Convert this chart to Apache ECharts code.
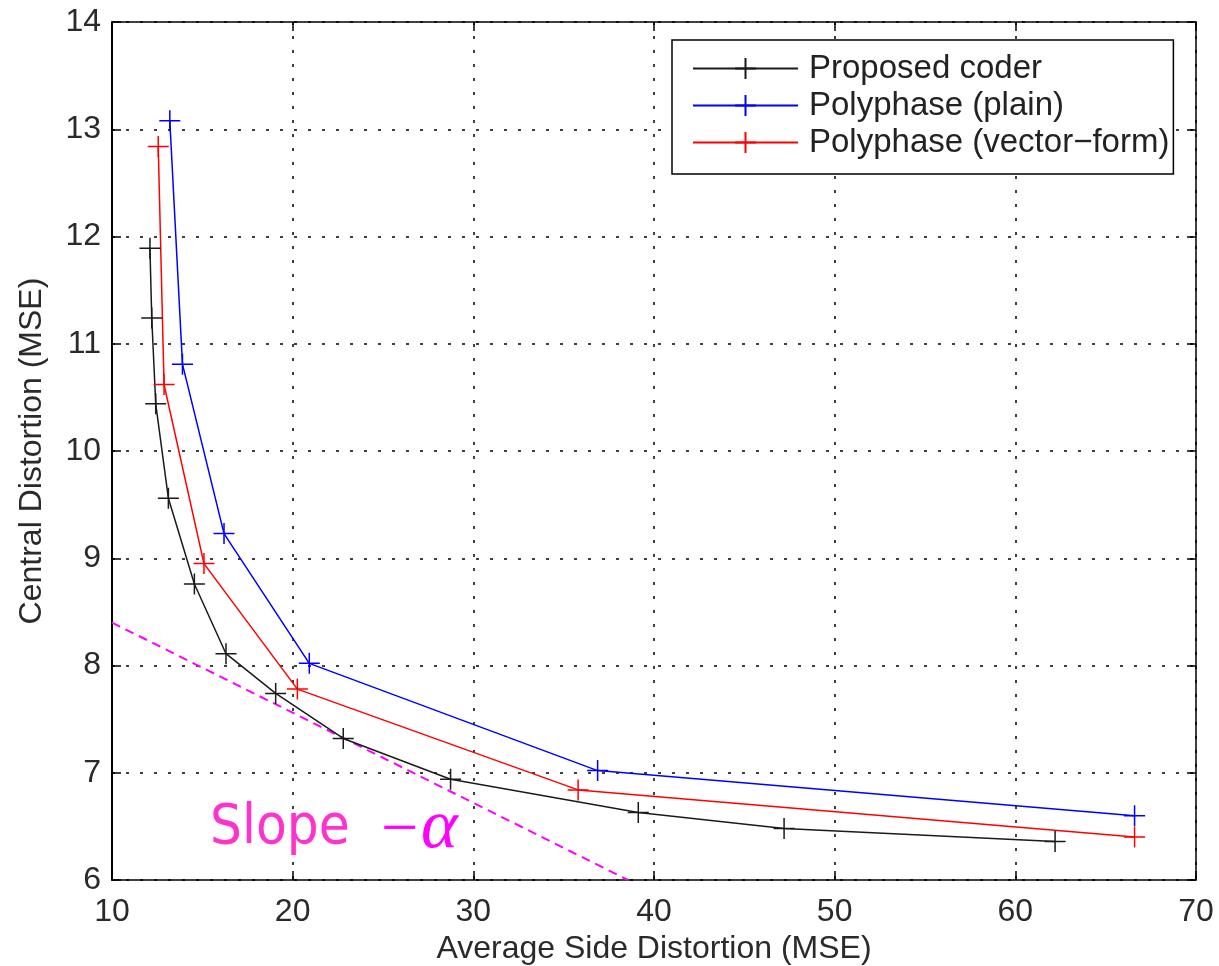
<!DOCTYPE html>
<html><head><meta charset="utf-8">
<script src="https://cdn.jsdelivr.net/npm/echarts@6/dist/echarts.min.js"></script>
<style>html,body{margin:0;padding:0;background:#fff}#c{width:1219px;height:966px}</style>
</head><body><div id="c"></div>
<script>
const seriesNames = ['Proposed coder', 'Polyphase (plain)', 'Polyphase (vector\u2212form)'];
const proposedX = [12.1, 12.2, 12.42, 13.12, 14.56, 16.31, 19.06, 22.8, 28.74, 39.13, 47.2, 62.2];
const proposedY = [11.89, 11.24, 10.44, 9.56, 8.76, 8.11, 7.74, 7.32, 6.94, 6.63, 6.48, 6.36];
const plainX = [13.2, 13.9, 16.2, 20.92, 36.88, 66.6];
const plainY = [13.08, 10.81, 9.23, 8.02, 7.02, 6.6];
const vectorX = [12.56, 12.88, 15.09, 20.26, 35.8, 66.6];
const vectorY = [12.84, 10.62, 8.95, 7.78, 6.84, 6.4];
const slopeLineX = [10, 38.56];
const slopeLineY = [8.40, 6.0];
const xTicks = [10, 20, 30, 40, 50, 60, 70];
const yTicks = [6, 7, 8, 9, 10, 11, 12, 13, 14];

const pairs = (xs, ys) => xs.map((x, i) => [x, ys[i]]);
const plus = 'path://M0,10L20,10M10,0L10,20';
const font = 'Liberation Sans';
const colors = ['#1a1a1a', '#0000ff', '#ff0000'];

function mkSeries(name, data, color) {
  return {
    name, type: 'line', data, symbol: plus, symbolSize: 21,
    lineStyle: { color, width: 1.5 },
    itemStyle: { color: 'none', borderColor: color, borderWidth: 1.5 },
    emphasis: { disabled: true }, animation: false, z: 5
  };
}

const chart = echarts.init(document.getElementById('c'), null, { renderer: 'canvas' });
const gridLine = { show: true, lineStyle: { color: '#000', width: 1.5, type: [3, 11] } };
const axisBase = {
  type: 'value', min: xTicks[0], max: xTicks[xTicks.length - 1], interval: xTicks[1] - xTicks[0]
};
const yBase = {
  type: 'value', min: yTicks[0], max: yTicks[yTicks.length - 1], interval: yTicks[1] - yTicks[0]
};
chart.setOption({
  backgroundColor: '#fff',
  animation: false,
  grid: { left: 112, right: 23, top: 22, bottom: 86, containLabel: false, outerBoundsMode: 'none' },
  xAxis: [
    Object.assign({}, axisBase, {
      position: 'bottom',
      name: 'Average Side Distortion (MSE)', nameLocation: 'middle', nameGap: 53,
      nameTextStyle: { fontFamily: font, fontSize: 32, color: '#2a2a2a' },
      axisLine: { show: true, onZero: false, lineStyle: { color: '#000', width: 1.5 } },
      axisTick: { show: true, inside: true, length: 9, lineStyle: { color: '#000', width: 1.5 } },
      axisLabel: { fontFamily: font, fontSize: 32, color: '#2a2a2a', margin: 16 },
      splitLine: gridLine
    }),
    Object.assign({}, axisBase, {
      position: 'top',
      axisLine: { show: true, onZero: false, lineStyle: { color: '#000', width: 1.5 } },
      axisTick: { show: true, inside: true, length: 9, lineStyle: { color: '#000', width: 1.5 } },
      axisLabel: { show: false }, splitLine: { show: false }
    })
  ],
  yAxis: [
    Object.assign({}, yBase, {
      position: 'left',
      name: 'Central Distortion (MSE)', nameLocation: 'middle', nameGap: 64, nameRotate: 90,
      nameTextStyle: { fontFamily: font, fontSize: 32, color: '#2a2a2a' },
      axisLine: { show: true, onZero: false, lineStyle: { color: '#000', width: 2 } },
      axisTick: { show: true, inside: true, length: 9, lineStyle: { color: '#000', width: 1.5 } },
      axisLabel: { fontFamily: font, fontSize: 32, color: '#2a2a2a', margin: 11 },
      splitLine: gridLine
    }),
    Object.assign({}, yBase, {
      position: 'right',
      axisLine: { show: true, onZero: false, lineStyle: { color: '#000', width: 1.5 } },
      axisTick: { show: true, inside: true, length: 9, lineStyle: { color: '#000', width: 1.5 } },
      axisLabel: { show: false }, splitLine: { show: false }
    })
  ],
  legend: {
    data: seriesNames,
    orient: 'vertical', left: 672, top: 40,
    backgroundColor: '#fff', borderColor: '#000', borderWidth: 1.5, borderRadius: 0,
    padding: [12, 4, 15, 20],
    itemWidth: 105, itemHeight: 26, itemGap: 4,
    textStyle: { fontFamily: font, fontSize: 33, color: '#222', lineHeight: 33, padding: [0, 0, 0, 6] },
    selectedMode: false
  },
  series: [
    mkSeries(seriesNames[0], pairs(proposedX, proposedY), colors[0]),
    mkSeries(seriesNames[1], pairs(plainX, plainY), colors[1]),
    mkSeries(seriesNames[2], pairs(vectorX, vectorY), colors[2]),
    {
      name: 'slope', type: 'line', data: pairs(slopeLineX, slopeLineY), symbol: 'none',
      lineStyle: { color: '#ff00ff', width: 2, type: [9, 6] }, z: 3, silent: true
    }
  ],
  graphic: [
    { type: 'text', left: 210, top: 800, z: 10,
      style: { text: 'Slope', fill: '#ff33cc', font: '56px "DejaVu Sans Condensed", "Liberation Sans", sans-serif' } },
    { type: 'text', left: 381, top: 799, z: 10,
      style: { text: '\u2212', fill: '#ff00ff', font: '66px "Liberation Serif", serif' } },
    { type: 'text', left: 421, top: 794, z: 10,
      style: { text: '\u03b1', fill: '#ff00ff', font: 'italic 70px "Liberation Serif", serif' } }
  ]
});
</script></body></html>
